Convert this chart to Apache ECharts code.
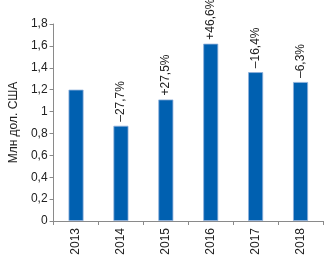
<!DOCTYPE html>
<html><head><meta charset="utf-8">
<script src="https://cdn.jsdelivr.net/npm/echarts@6/dist/echarts.min.js"></script>
<style>html,body{margin:0;padding:0;background:#fff}#c{width:331px;height:260px}</style>
</head><body><div id="c"></div>
<script>
const categories = ['2013','2014','2015','2016','2017','2018'];
const values = [1.20, 0.87, 1.11, 1.62, 1.36, 1.27];
const changeLabels = ['', '–27,7%', '+27,5%', '+46,6%', '–16,4%', '–6,3%'];
const yTicks = ['0','0,2','0,4','0,6','0,8','1','1,2','1,4','1,6','1,8'];
const font = '"Liberation Sans Narrow", "Liberation Sans", Arial, sans-serif';
const chart = echarts.init(document.getElementById('c'));
chart.setOption({
  animation: false,
  grid: {left: 44, right: 8, top: 24, bottom: 39},
  xAxis: {
    type: 'category', data: categories,
    axisLine: {lineStyle: {color: '#8a8a8a'}},
    axisTick: {show: true, alignWithLabel: false, length: 4, lineStyle: {color: '#8a8a8a'}},
    axisLabel: {rotate: 90, color: '#222', fontFamily: font, fontSize: 12, margin: 7}
  },
  yAxis: {
    type: 'value', min: 0, max: 1.8, interval: 0.2,
    name: 'Млн дол. США', nameLocation: 'middle', nameGap: 30,
    nameTextStyle: {color: '#222', fontFamily: font, fontSize: 12},
    axisLine: {show: true, lineStyle: {color: '#8a8a8a'}},
    axisTick: {show: true, length: 4, lineStyle: {color: '#8a8a8a'}},
    splitLine: {show: false},
    axisLabel: {color: '#222', fontFamily: font, fontSize: 12, margin: 6,
      formatter: v => yTicks[Math.round(v / 0.2)]}
  },
  series: [{
    type: 'bar', data: values, barWidth: 15,
    itemStyle: {color: '#0060b0', borderColor: '#8fb0da', borderWidth: 0.8},
    label: {show: true, position: 'top', rotate: 90, align: 'left', verticalAlign: 'middle',
      distance: 4, color: '#222', fontFamily: font, fontSize: 12,
      formatter: p => changeLabels[p.dataIndex]}
  }]
});
</script></body></html>
